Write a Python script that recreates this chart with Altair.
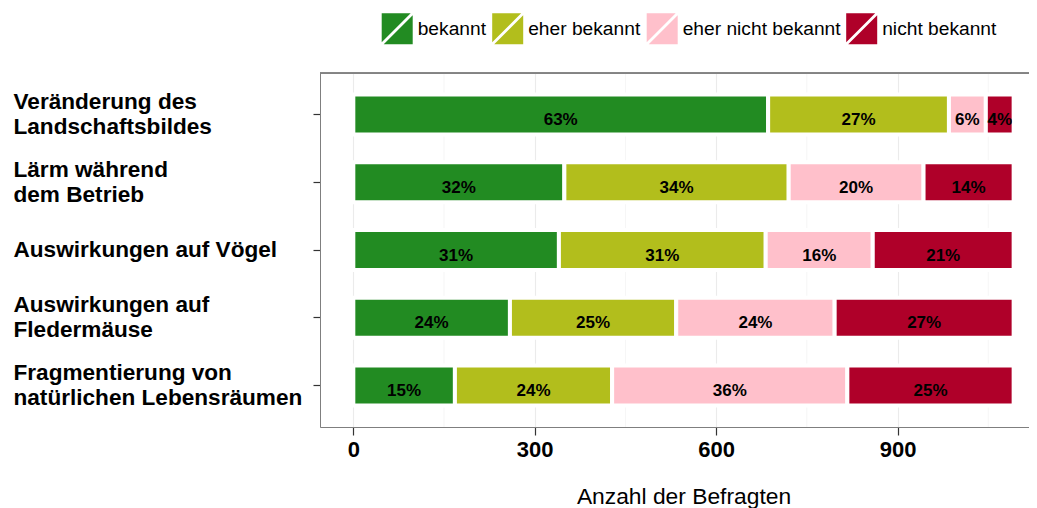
import altair as alt
import pandas as pd

# ---- data ----
items = [
    "Veränderung des\nLandschaftsbildes",
    "Lärm während\ndem Betrieb",
    "Auswirkungen auf Vögel",
    "Auswirkungen auf\nFledermäuse",
    "Fragmentierung von\nnatürlichen Lebensräumen",
]
answers = ["bekannt", "eher bekannt", "eher nicht bekannt", "nicht bekannt"]
colors = ["#228B22", "#B2BE1C", "#FFC0CB", "#AF0029"]

bekannt = [686, 349, 340, 259, 168]
eher_bekannt = [299, 371, 342, 275, 260]
eher_nicht_bekannt = [61, 223, 177, 262, 389]
nicht_bekannt = [46, 149, 233, 296, 275]

x_ticks = [0, 300, 600, 900]
x_minor = [150, 450, 750, 1050]

series = [bekannt, eher_bekannt, eher_nicht_bekannt, nicht_bekannt]
rows = []
for i, item in enumerate(items):
    total = sum(s[i] for s in series)
    start = 0
    for j, ans in enumerate(answers):
        v = series[j][i]
        rows.append({
            "item": item, "answer": ans, "order": j, "count": v,
            "start": start, "end": start + v, "mid": start + v / 2,
            "label": f"{round(100 * v / total)}%",
        })
        start += v
df = pd.DataFrame(rows)
minor_df = pd.DataFrame({"v": x_minor})

FONT = "Liberation Sans"
W, H = 709, 354

xscale = alt.Scale(domain=[-55.1, 1117.4], nice=False, zero=False)
yscale = alt.Scale(domain=items, paddingInner=0.409, paddingOuter=0.319)

key_path = "M-1,-1L0.87,-1L-1,0.87ZM1,1L-0.87,1L1,-0.87Z"

minor = alt.Chart(minor_df).mark_rule(color="#f2f2f2", strokeWidth=0.8).encode(
    x=alt.X("v:Q", scale=xscale)
)

bars = alt.Chart(df).mark_bar(stroke="white", strokeWidth=4).encode(
    x=alt.X(
        "start:Q", scale=xscale,
        axis=alt.Axis(
            values=x_ticks, title="Anzahl der Befragten",
            labelFontSize=22, labelFontWeight="bold", labelColor="black",
            labelPadding=4, labelFlush=False,
            tickSize=8, tickColor="#333333", tickWidth=1.2,
            domainColor="#7f7f7f", domainWidth=1,
            gridColor="#ebebeb", gridWidth=1.1,
            titleFontSize=22.8, titleFontWeight="normal", titleColor="black",
            titleX=363.5, titleY=76.6, titleBaseline="alphabetic", titleAlign="center",
        ),
    ),
    x2="end:Q",
    y=alt.Y(
        "item:N", scale=yscale, sort=items,
        axis=alt.Axis(
            title=None, labelExpr="split(datum.label, '\\n')",
            labelAlign="left", labelBaseline="middle", labelPadding=300,
            labelOffset={"condition": {"test": "indexof(datum.value, '\\n') >= 0", "value": -12.5}, "value": 0},
            labelFontSize=22.6, labelFontWeight="bold", labelColor="black",
            labelLineHeight=25, labelLimit=0,
            tickSize=7, tickColor="#333333", tickWidth=1.2,
            domainColor="#7f7f7f", domainWidth=1,
            gridColor="#ebebeb", gridWidth=1.1,
        ),
    ),
    color=alt.Color(
        "answer:N",
        scale=alt.Scale(domain=answers, range=colors),
        legend=alt.Legend(
            title=None, orient="none", direction="horizontal",
            legendX=61.7, legendY=-59.8, padding=0,
            symbolType=key_path, symbolSize=961, symbolStrokeWidth=0,
            symbolOpacity=1,
            labelFontSize=19.2, labelFont=FONT, labelColor="black",
            labelOffset=5, columnPadding=5.5, labelLimit=0,
        ),
    ),
    order=alt.Order("order:Q"),
)

texts = alt.Chart(df).mark_text(
    font=FONT, fontSize=17, fontWeight="bold", color="black",
    baseline="alphabetic", dy=10.6,
).encode(
    x=alt.X("mid:Q", scale=xscale),
    y=alt.Y("item:N", scale=yscale, sort=items),
    text="label:N",
)

top_border = alt.Chart(minor_df).mark_rule(color="#7f7f7f", strokeWidth=1).encode(
    y=alt.value(0), x=alt.value(0), x2=alt.value(W)
)

chart = alt.layer(minor, bars, texts, top_border).properties(
    width=W, height=H,
    autosize=alt.AutoSizeParams(type="none"),
    padding={"left": 312, "top": 65, "right": 0, "bottom": 81},
).configure_view(stroke=None).configure(font=FONT)

chart.save("out.html", embed_options={"renderer": "svg", "actions": False})
